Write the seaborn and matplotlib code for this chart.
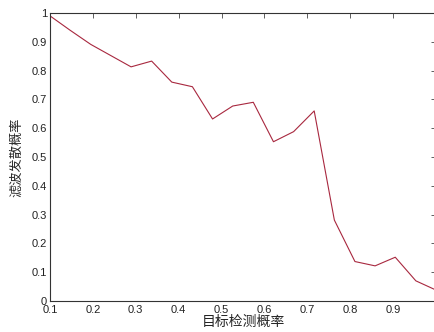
import matplotlib.pyplot as plt
import numpy as np
import pandas as pd
import seaborn as sns

# Data
detect_prob = [0.100, 0.147, 0.195, 0.242, 0.289, 0.337, 0.384, 0.432, 0.479, 0.526,
               0.574, 0.621, 0.668, 0.716, 0.763, 0.811, 0.858, 0.905, 0.953, 1.000]
diverge_prob = [0.99, 0.94, 0.891, 0.852, 0.813, 0.833, 0.760, 0.744, 0.632, 0.677,
                0.690, 0.553, 0.588, 0.660, 0.281, 0.137, 0.122, 0.152, 0.070, 0.038]

x_ticks = [0.1, 0.2, 0.3, 0.4, 0.5, 0.6, 0.7, 0.8, 0.9, 1.0]
x_tick_labels = ["0.1", "0.2", "0.3", "0.4", "0.5", "0.6", "0.7", "0.8", "0.9", "1"]
y_ticks = [0, 0.1, 0.2, 0.3, 0.4, 0.5, 0.6, 0.7, 0.8, 0.9, 1.0]
y_tick_labels = ["0", "0.1", "0.2", "0.3", "0.4", "0.5", "0.6", "0.7", "0.8", "0.9", "1"]

x_label = "目标检测概率"
y_label = "滤波发散概率"

LINE_COLOR = "#a8283f"

sns.set_style("white")
plt.rcParams["font.family"] = ["Liberation Sans", "Noto Sans CJK SC", "DejaVu Sans"]
plt.rcParams.update({
    "xtick.direction": "in",
    "ytick.direction": "in",
    "xtick.top": True,
    "ytick.right": True,
    "xtick.major.size": 3.5,
    "ytick.major.size": 3.5,
    "xtick.major.width": 0.6,
    "ytick.major.width": 0.6,
    "xtick.major.pad": 3,
    "ytick.major.pad": 2,
})

df = pd.DataFrame({"detect": detect_prob, "diverge": diverge_prob})

fig = plt.figure(figsize=(4.34, 3.32), dpi=100)
ax = fig.add_axes([50 / 434, 31 / 332, 386 / 434, 288 / 332])

sns.lineplot(data=df, x="detect", y="diverge", color=LINE_COLOR, linewidth=0.8, ax=ax)

ax.set_xlim(0.1, 1.0)
ax.set_ylim(0, 1.0)
ax.set_xticks(x_ticks)
ax.set_xticklabels(x_tick_labels, fontsize=8)
ax.set_yticks(y_ticks)
ax.set_yticklabels(y_tick_labels, fontsize=8)
ax.tick_params(colors="#444444", labelcolor="#222222")

ax.set_xlabel(x_label, fontsize=10, family=["Noto Sans CJK SC", "DejaVu Sans"], labelpad=0)
ax.set_ylabel(y_label, fontsize=9.5, family=["Noto Sans CJK SC", "DejaVu Sans"], labelpad=6)

for spine in ax.spines.values():
    spine.set_color("#333333")
    spine.set_linewidth(0.8)

fig.savefig("out.png", dpi=100)
